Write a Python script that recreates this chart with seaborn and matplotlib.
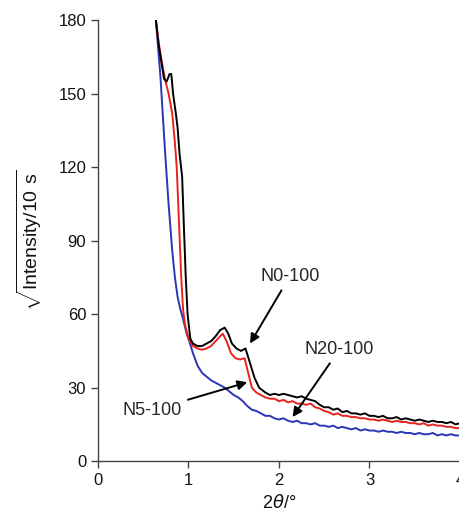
import matplotlib
matplotlib.use('Agg')
import matplotlib.pyplot as plt
import seaborn as sns
import pandas as pd

# N0-100 (black)
x_n0 = [0.64, 0.67, 0.70, 0.73, 0.76, 0.79, 0.81, 0.83, 0.86, 0.88, 0.90, 0.93, 0.95, 0.97, 0.99,
        1.02, 1.05, 1.10, 1.15, 1.20, 1.25, 1.30, 1.35, 1.40, 1.44, 1.48, 1.53, 1.58, 1.63, 1.68,
        1.73, 1.78, 1.85, 1.90, 1.95, 2.00, 2.05, 2.10, 2.15, 2.20, 2.25, 2.30, 2.35, 2.40, 2.45,
        2.50, 2.55, 2.60, 2.65, 2.70, 2.75, 2.80, 2.85, 2.90, 2.95, 3.00, 3.05, 3.10, 3.15, 3.20,
        3.25, 3.30, 3.35, 3.40, 3.45, 3.50, 3.55, 3.60, 3.65, 3.70, 3.75, 3.80, 3.85, 3.90, 3.95, 4.00]
y_n0 = [180, 170, 163, 156, 155, 158, 158, 150, 142, 136, 126, 116, 95, 75, 60,
        50, 48, 47, 47, 48, 49, 51, 53.5, 54.5, 52, 48, 46, 45, 46, 40,
        34, 30, 28, 27, 27.5, 27, 27.5, 27, 26.5, 26, 26.5, 25.5, 25, 24.5, 23,
        22, 22, 21, 21.5, 20, 20.5, 19.5, 19.5, 19, 19.5, 18.5, 18.5, 18, 18.5, 17.5,
        17.5, 18, 17, 17.5, 17, 16.5, 17, 16.5, 16, 16.5, 16, 16, 15.5, 16, 15, 15.5]

# N5-100 (red)
x_n5 = [0.64, 0.67, 0.70, 0.72, 0.74, 0.78, 0.82, 0.85, 0.87, 0.90, 0.92, 0.94, 0.96, 0.98,
        1.00, 1.05, 1.10, 1.15, 1.20, 1.25, 1.30, 1.35, 1.38, 1.42, 1.47, 1.52, 1.57, 1.62,
        1.66, 1.70, 1.75, 1.80, 1.85, 1.90, 1.95, 2.00, 2.05, 2.10, 2.15, 2.20, 2.25, 2.30,
        2.35, 2.40, 2.45, 2.50, 2.55, 2.60, 2.65, 2.70, 2.75, 2.80, 2.85, 2.90, 2.95, 3.00,
        3.05, 3.10, 3.15, 3.20, 3.25, 3.30, 3.35, 3.40, 3.45, 3.50, 3.55, 3.60, 3.65, 3.70,
        3.75, 3.80, 3.85, 3.90, 3.95, 4.00]
y_n5 = [180, 171, 164, 160, 156, 150, 142, 130, 120, 93, 75, 62, 56, 53,
        50, 47, 46, 45.5, 46, 47, 49, 51, 52, 49, 44, 42, 41.5, 42,
        36, 30, 28, 27, 26, 25.5, 25.5, 24.5, 25, 24, 24.5, 23.5, 23.5, 23,
        23.5, 22, 21.5, 20.5, 20, 19, 19.5, 18.5, 18.5, 18, 18, 17.5, 17.5, 17,
        17, 16.5, 17, 16.5, 16, 16.5, 16, 16, 15.5, 15.5, 15, 15.5, 14.5, 15,
        14.5, 14.5, 14, 14, 13.5, 13.5]

# N20-100 (blue)
x_n20 = [0.64, 0.69, 0.74, 0.78, 0.82, 0.85, 0.88, 0.91, 0.94, 0.98, 1.00, 1.05, 1.10,
         1.15, 1.20, 1.25, 1.30, 1.35, 1.40, 1.45, 1.50, 1.55, 1.60, 1.65, 1.70, 1.75, 1.80,
         1.85, 1.90, 1.95, 2.00, 2.05, 2.10, 2.15, 2.20, 2.25, 2.30, 2.35, 2.40, 2.45, 2.50,
         2.55, 2.60, 2.65, 2.70, 2.75, 2.80, 2.85, 2.90, 2.95, 3.00, 3.05, 3.10, 3.15, 3.20,
         3.25, 3.30, 3.35, 3.40, 3.45, 3.50, 3.55, 3.60, 3.65, 3.70, 3.75, 3.80, 3.85, 3.90,
         3.95, 4.00]
y_n20 = [180, 157, 127, 105, 86, 75, 67, 62, 58, 52, 50, 44, 39,
         36, 34.5, 33, 32, 31, 30, 28.5, 27, 26, 24.5, 22.5, 21, 20.5, 19.5,
         18.5, 18.5, 17.5, 17, 17.5, 16.5, 16, 16.5, 15.5, 15.5, 15, 15.5, 14.5, 14.5,
         14, 14.5, 13.5, 14, 13.5, 13, 13.5, 12.5, 13, 12.5, 12.5, 12, 12.5, 12,
         12, 11.5, 12, 11.5, 11.5, 11, 11.5, 11, 11, 11.5, 10.5, 11, 10.5, 11,
         10.5, 10.5]

labels = ['N0-100', 'N5-100', 'N20-100']
colors = ['#000000', '#e8231e', '#2b35b5']

sns.set_style('ticks')
plt.rcParams['font.family'] = ['Liberation Sans', 'DejaVu Sans']
plt.rcParams['mathtext.fontset'] = 'custom'
plt.rcParams['mathtext.rm'] = 'Liberation Sans'
plt.rcParams['mathtext.it'] = 'DejaVu Sans:italic'

fig = plt.figure(figsize=(4.6, 5.17), dpi=100)
ax = fig.add_axes([0.213, 0.108, 0.787, 0.853])

# draw blue first so black stays on top
for xs, ys, c in [(x_n20, y_n20, colors[2]), (x_n5, y_n5, colors[1]), (x_n0, y_n0, colors[0])]:
    df = pd.DataFrame({'x': xs, 'y': ys})
    sns.lineplot(data=df, x='x', y='y', color=c, lw=1.4, ax=ax)

ax.set_xlim(0, 4)
ax.set_ylim(0, 180)
ax.set_xticks([0, 1, 2, 3, 4])
ax.set_yticks([0, 30, 60, 90, 120, 150, 180])
ax.tick_params(labelsize=12, length=5, width=1, color='#444444', labelcolor='#111111',
               direction='out')
for s in ['top', 'right']:
    ax.spines[s].set_visible(False)
for s in ['left', 'bottom']:
    ax.spines[s].set_color('#444444')
    ax.spines[s].set_linewidth(1)

ax.set_xlabel(r'$\mathrm{2}\mathit{\theta}$/°', fontsize=13, labelpad=4, color='#111111')
ax.set_ylabel(r'$\sqrt{\mathrm{Intensity/10\ s}}$', fontsize=14, labelpad=10, color='#111111')

arrow = dict(arrowstyle='-|>', color='black', lw=1.4, mutation_scale=14, shrinkA=2, shrinkB=0)
ax.annotate('N0-100', xy=(1.68, 48), xytext=(2.12, 75.5), fontsize=13,
            ha='center', va='center', arrowprops=arrow)
ax.annotate('N20-100', xy=(2.15, 18), xytext=(2.67, 45.7), fontsize=13,
            ha='center', va='center', arrowprops=arrow)
ax.annotate('N5-100', xy=(1.65, 32.2), xytext=(0.60, 20.8), fontsize=13,
            ha='center', va='center', arrowprops=arrow)

fig.savefig('out.png', dpi=100)
